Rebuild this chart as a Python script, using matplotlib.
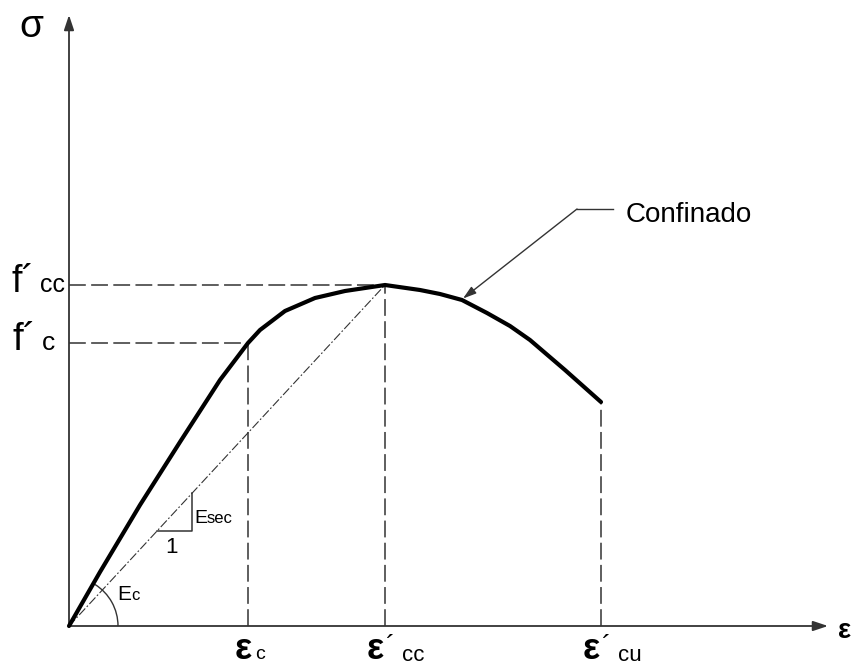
import numpy as np
import matplotlib.pyplot as plt
from matplotlib.patches import Arc, FancyArrowPatch

plt.rcParams['font.family'] = ['Liberation Sans', 'DejaVu Sans']

# stress-strain curve of confined concrete (drawing units)
strain = [0.0, 0.31, 0.71, 1.11, 1.51, 1.79, 1.91, 2.16, 2.46, 2.76, 3.16,
          3.51, 3.71, 3.93, 4.18, 4.41, 4.61, 4.96, 5.32]
stress = [0.0, 0.54, 1.21, 1.84, 2.46, 2.83, 2.96, 3.15, 3.28, 3.35, 3.41,
          3.36, 3.32, 3.26, 3.13, 3.00, 2.86, 2.56, 2.24]

eps_c, f_c = 1.79, 2.83      # unconfined peak
eps_cc, f_cc = 3.16, 3.41    # confined peak
eps_cu, f_cu = 5.32, 2.24    # ultimate
x_axis_end, y_axis_end = 7.59, 6.11

line_col = '#333333'
dash = (0, (11, 3.5))

fig = plt.figure(figsize=(8.54, 6.66), dpi=100)
ax = fig.add_axes([0, 0, 1, 1])
ax.set_xlim(-0.69, 7.85)
ax.set_ylim(-0.40, 6.26)
ax.axis('off')

# axes with arrows
for end in [(x_axis_end, 0), (0, y_axis_end)]:
    ax.add_patch(FancyArrowPatch((0, 0), end, arrowstyle='-|>,head_length=0.9,head_width=0.3',
                                 mutation_scale=10, color=line_col, lw=1.3, shrinkA=0, shrinkB=0))

# reference dashed lines
ax.plot([0, eps_cc], [f_cc, f_cc], color=line_col, lw=1.1, ls=dash)
ax.plot([0, eps_c], [f_c, f_c], color=line_col, lw=1.1, ls=dash)
for xe, ye in [(eps_c, f_c), (eps_cc, f_cc), (eps_cu, f_cu)]:
    ax.plot([xe, xe], [0, ye], color=line_col, lw=1.1, ls=dash)

# secant modulus line
slope = f_cc / eps_cc
ax.plot([0, eps_cc], [0, f_cc], color=line_col, lw=0.8, ls=(0, (8, 2, 1.5, 2)))

# confined curve
ax.plot(strain, stress, color='black', lw=3.0, solid_joinstyle='round', solid_capstyle='round')

# slope triangle for Esec
x0, x1 = 0.88, 1.23
ax.plot([x0, x1, x1], [x0 * slope, x0 * slope, x1 * slope], color=line_col, lw=1.1)
ax.text(x1 + 0.02, 1.03, 'E', fontsize=14, ha='left', va='baseline')
ax.text(x1 + 0.15, 1.03, 'sec', fontsize=12, ha='left', va='baseline')
ax.text(0.96, 0.73, '1', fontsize=16, ha='left', va='baseline')

# Ec angle arc
ax.add_patch(Arc((0, 0), 0.98, 0.98, theta1=0, theta2=58, color=line_col, lw=1.0))
ax.text(0.48, 0.26, 'E', fontsize=15, ha='left', va='baseline')
ax.text(0.62, 0.26, 'c', fontsize=12, ha='left', va='baseline')

# leader for "Confinado"
tip_x = 3.94
tip_y = np.interp(tip_x, strain, stress)
ax.plot([5.08, 5.44], [4.17, 4.17], color=line_col, lw=1.0)
ax.add_patch(FancyArrowPatch((5.08, 4.17), (tip_x, tip_y + 0.02),
                             arrowstyle='-|>,head_length=0.8,head_width=0.25',
                             mutation_scale=10, color=line_col, lw=1.0, shrinkA=0, shrinkB=0))
ax.text(5.57, 4.04, 'Confinado', fontsize=20, ha='left', va='baseline')

# axis symbols
ax.text(-0.50, 5.89, 'σ', fontsize=28, ha='left', va='baseline')
ax.text(7.69, -0.12, 'ε', fontsize=20, fontweight='bold', ha='left', va='baseline')

# stress labels
ax.text(-0.57, f_cc - 0.07, 'f´', fontsize=27, ha='left', va='baseline')
ax.text(-0.29, f_cc - 0.07, 'cc', fontsize=18, ha='left', va='baseline')
ax.text(-0.56, f_c - 0.07, 'f´', fontsize=28, ha='left', va='baseline')
ax.text(-0.27, f_c - 0.07, 'c', fontsize=19, ha='left', va='baseline')

# strain labels
ax.text(eps_c - 0.13, -0.33, 'ε', fontsize=26, fontweight='bold', ha='left', va='baseline')
ax.text(eps_c + 0.07, -0.33, 'c', fontsize=14, ha='left', va='baseline')
for xe, sub in [(eps_cc, 'cc'), (eps_cu, 'cu')]:
    ax.text(xe - 0.18, -0.33, 'ε', fontsize=26, fontweight='bold', ha='left', va='baseline')
    ax.text(xe + 0.01, -0.28, '´', fontsize=20, ha='left', va='baseline')
    ax.text(xe + 0.17, -0.35, sub, fontsize=16, ha='left', va='baseline')

fig.savefig('out.png', dpi=100)
